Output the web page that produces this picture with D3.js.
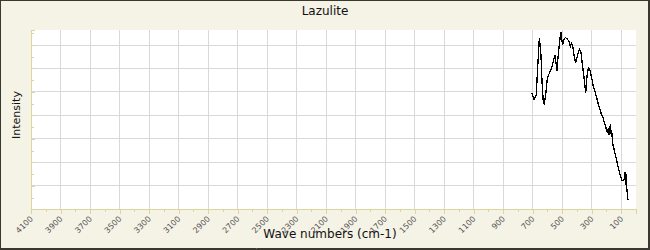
<!DOCTYPE html>
<html><head><meta charset="utf-8">
<script src="https://cdn.jsdelivr.net/npm/d3@7/dist/d3.min.js"></script>
<style>body{margin:0;background:#fff}svg{display:block}</style>
</head><body><svg id="c" width="650" height="250"></svg>
<script>
const title = "Lazulite";
const xLabel = "Wave numbers (cm-1)";
const yLabel = "Intensity";
const xTickValues = [4100,3900,3700,3500,3300,3100,2900,2700,2500,2300,2100,1900,1700,1500,1300,1100,900,700,500,300,100];
const wavenumbers = [705,691,676,664,655,651,644,637,628,621,612,601,590,576,560,549,542,535,531,522,515,508,504,497,488,479,466,454,445,436,429,418,409,395,383,373,363,352,341,332,323,312,300,289,278,266,251,237,222,205,194,190,188,185,183,179,176,172,169,165,158,142,127,110,97,86,78,75,73,70,68,66,63,61,56,54];
const intensity = [4.95,4.66,4.88,6.31,7.29,7.08,6.58,5.46,4.54,4.49,4.88,5.59,5.76,5.94,6.30,6.58,6.23,5.89,6.30,6.86,7.29,7.54,7.29,7.00,7.22,7.32,7.26,7.15,6.94,7.08,6.94,6.51,6.23,6.60,6.82,6.69,6.14,5.59,4.95,5.66,6.04,5.94,5.59,5.23,5.02,4.74,4.38,4.10,3.87,3.51,3.26,3.40,3.45,3.20,3.16,3.50,3.54,3.25,3.23,3.37,2.81,2.38,1.96,1.53,1.25,1.22,1.30,1.60,1.20,1.03,1.50,1.46,0.90,0.82,0.47,0.40];

const svg = d3.select("#c");
const W = 650, H = 250;
const m = {l:31, r:636, t:30, b:209.3};
svg.append("rect").attr("x",0).attr("y",0).attr("width",W).attr("height",H).attr("fill","#f5f2e6");
svg.append("rect").attr("x",m.l).attr("y",m.t).attr("width",m.r-m.l).attr("height",m.b-m.t).attr("fill","#fff");

const x = d3.scaleLinear().domain([4100,0]).range([m.l,m.r]);
const y = d3.scaleLinear().domain([0,7.64]).range([m.b,m.t]);

const grid = svg.append("g").attr("stroke","#d9d9d9").attr("stroke-width",1).attr("shape-rendering","crispEdges");
xTickValues.filter(v=>v!==4100).forEach(v=>{
  grid.append("line").attr("x1",x(v)).attr("x2",x(v)).attr("y1",m.t).attr("y2",m.b);
});
d3.range(1,8).forEach(v=>{
  grid.append("line").attr("x1",m.l).attr("x2",m.r).attr("y1",y(v)).attr("y2",y(v));
});

const axCol = "#dcd59c";
const xAxis = d3.axisBottom(x).tickValues(xTickValues).tickSize(5).tickFormat(d3.format("d"));
const gx = svg.append("g").attr("transform",`translate(0,${m.b})`).call(xAxis);
gx.select(".domain").attr("stroke",axCol).attr("shape-rendering","crispEdges");
gx.selectAll(".tick line").attr("stroke",axCol).attr("shape-rendering","crispEdges");
gx.selectAll(".tick text").attr("fill","#555").attr("font-size","8px").attr("font-family","DejaVu Sans, sans-serif")
  .attr("text-anchor","end").attr("dy",0).attr("y",0)
  .attr("transform","translate(2,10) rotate(-45)");
const minorX = d3.range(4000,0,-200);
const gxm = svg.append("g").attr("transform",`translate(0,${m.b})`)
  .call(d3.axisBottom(x).tickValues(minorX).tickSize(3).tickFormat(""));
gxm.select(".domain").remove();
gxm.selectAll(".tick line").attr("stroke",axCol).attr("shape-rendering","crispEdges");

const gy = svg.append("g").attr("transform",`translate(${m.l},0)`)
  .call(d3.axisRight(y).tickValues(d3.range(0,8)).tickSize(4).tickFormat(""));
gy.select(".domain").attr("stroke",axCol).attr("shape-rendering","crispEdges");
gy.selectAll(".tick line").attr("stroke",axCol).attr("shape-rendering","crispEdges");
const gym = svg.append("g").attr("transform",`translate(${m.l},0)`)
  .call(d3.axisRight(y).tickValues(d3.range(0.5,8,1)).tickSize(3).tickFormat(""));
gym.select(".domain").remove();
gym.selectAll(".tick line").attr("stroke",axCol).attr("shape-rendering","crispEdges");

const data = wavenumbers.map((w,i)=>({w, v:intensity[i]}));
svg.append("path").datum(data)
  .attr("fill","none").attr("stroke","#000").attr("stroke-width",1.3).attr("shape-rendering","crispEdges")
  .attr("d", d3.line().x(d=>x(d.w)).y(d=>y(d.v)));

svg.append("text").attr("x",325).attr("y",15).attr("text-anchor","middle")
  .attr("font-family","DejaVu Sans, sans-serif").attr("font-size","12px").attr("fill","#111").text(title);
svg.append("text").attr("x",330).attr("y",238).attr("text-anchor","middle")
  .attr("font-family","DejaVu Sans, sans-serif").attr("font-size","12px").attr("fill","#111").text(xLabel);
svg.append("text").attr("transform","translate(20,115) rotate(-90)").attr("text-anchor","middle")
  .attr("font-family","DejaVu Sans, sans-serif").attr("font-size","11px").attr("fill","#111").text(yLabel);

svg.append("rect").attr("x",0.5).attr("y",0.5).attr("width",W-1).attr("height",H-1)
  .attr("fill","none").attr("stroke","#3b3832").attr("stroke-width",1);
svg.append("line").attr("x1",0).attr("x2",W).attr("y1",H-1.5).attr("y2",H-1.5).attr("stroke","#3b3832").attr("stroke-width",1);
svg.append("line").attr("x1",W-1.5).attr("x2",W-1.5).attr("y1",0).attr("y2",H).attr("stroke","#3b3832").attr("stroke-width",1);
</script></body></html>
